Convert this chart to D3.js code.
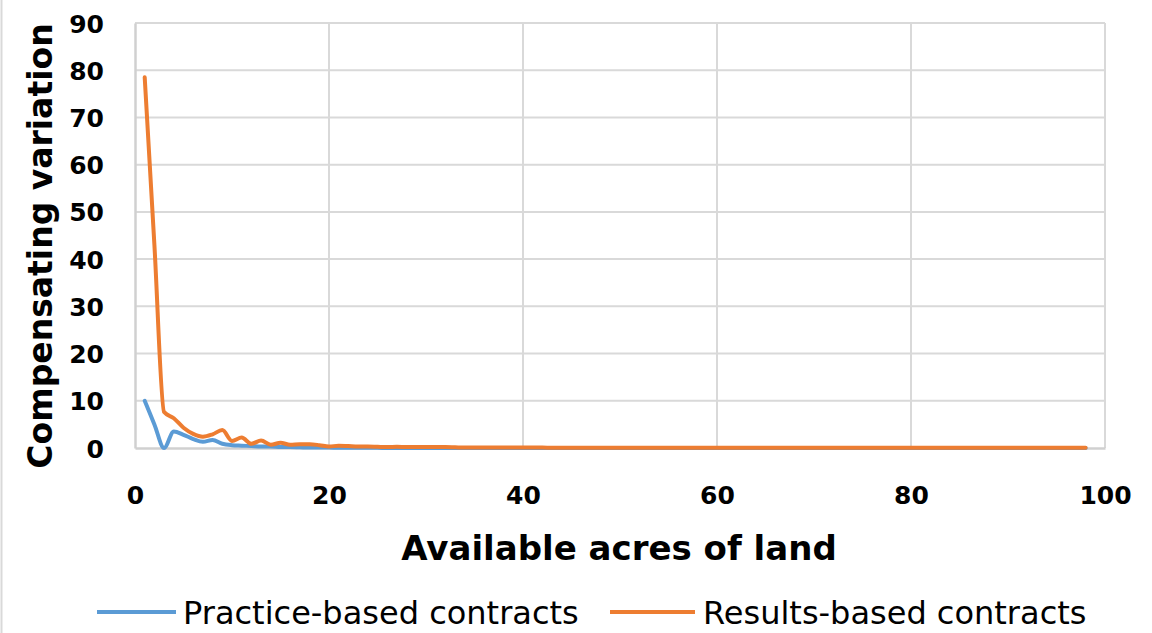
<!DOCTYPE html>
<html>
<head>
<meta charset="utf-8">
<script src="https://cdn.jsdelivr.net/npm/d3@7/dist/d3.min.js"></script>
<style>
  html, body { margin: 0; padding: 0; background: #ffffff; }
  svg { display: block; }
</style>
</head>
<body>
<svg id="chart" width="1152" height="633"></svg>
<script>
// Available acres of land (x) for each observation
const acres = [
  1, 2, 3, 4, 5, 6, 7, 8, 9, 10, 11, 12, 13, 14, 15, 16, 17, 18, 19, 20,
  21, 22, 23, 24, 25, 26, 27, 28, 29, 30, 31, 32, 33, 34, 35, 36, 37, 38, 39, 40,
  41, 42, 43, 44, 45, 46, 47, 48, 49, 50, 51, 52, 53, 54, 55, 56, 57, 58, 59, 60,
  61, 62, 63, 64, 65, 66, 67, 68, 69, 70, 71, 72, 73, 74, 75, 76, 77, 78, 79, 80,
  81, 82, 83, 84, 85, 86, 87, 88, 89, 90, 91, 92, 93, 94, 95, 96, 97, 98
];

// Compensating variation, practice-based contracts
const practiceBased = [
  10, 5, 0, 3.5, 2.8, 1.9, 1.3, 1.7, 0.9, 0.6, 0.5, 0.4, 0.3, 0.3, 0.2, 0.2, 0.15, 0.1, 0.1, 0.1,
  0.05, 0.05, 0.05, 0.05, 0.05, 0, 0, 0, 0, 0, 0, 0, 0, 0, 0, 0, 0, 0, 0, 0,
  0, 0, 0, 0, 0, 0, 0, 0, 0, 0, 0, 0, 0, 0, 0, 0, 0, 0, 0, 0,
  0, 0, 0, 0, 0, 0, 0, 0, 0, 0, 0, 0, 0, 0, 0, 0, 0, 0, 0, 0,
  0, 0, 0, 0, 0, 0, 0, 0, 0, 0, 0, 0, 0, 0, 0, 0, 0, 0
];

// Compensating variation, results-based contracts
const resultsBased = [
  78.5, 43, 7.6, 6.3, 4.3, 3.0, 2.4, 2.9, 3.8, 1.5, 2.2, 0.9, 1.6, 0.7, 1.1, 0.7, 0.8, 0.8, 0.6, 0.3,
  0.5, 0.4, 0.3, 0.3, 0.25, 0.2, 0.25, 0.2, 0.2, 0.2, 0.2, 0.2, 0.15, 0.1, 0.1, 0.1, 0.1, 0.1, 0.1, 0.1,
  0.1, 0.1, 0.05, 0.05, 0.05, 0.05, 0.05, 0.05, 0.05, 0.05, 0.05, 0.05, 0.05, 0.05, 0.05, 0.05, 0.05, 0.05, 0.05, 0.05,
  0.05, 0.05, 0.05, 0.05, 0.05, 0.05, 0.05, 0.05, 0.05, 0.05, 0.05, 0.05, 0.05, 0.05, 0.05, 0.05, 0.05, 0.05, 0.05, 0.05,
  0.05, 0.05, 0.05, 0.05, 0.05, 0.05, 0.05, 0.05, 0.05, 0.05, 0.05, 0.05, 0.05, 0.05, 0.05, 0.05, 0.05, 0.05
];

const xTicks = [0, 20, 40, 60, 80, 100];
const yTicks = [0, 10, 20, 30, 40, 50, 60, 70, 80, 90];

const seriesNames = ["Practice-based contracts", "Results-based contracts"];
const seriesColors = ["#5b9bd5", "#ed7d31"];

const xTitle = "Available acres of land";
const yTitle = "Compensating variation";

const svg = d3.select("#chart");
const W = 1152, H = 633;
const plot = { left: 135, right: 1105, top: 23, bottom: 448 };

const x = d3.scaleLinear().domain([0, 100]).range([plot.left, plot.right]);
const y = d3.scaleLinear().domain([0, 90]).range([plot.bottom, plot.top]);

svg.append("rect").attr("width", W).attr("height", H).attr("fill", "#ffffff");

// outer chart frame edge on the left
svg.append("line")
  .attr("x1", 1.5).attr("x2", 1.5).attr("y1", 0).attr("y2", H)
  .attr("stroke", "#d9d9d9").attr("stroke-width", 2);

const gridColor = "#d9d9d9";
const fontStack = "'DejaVu Sans', 'Liberation Sans', sans-serif";

// horizontal gridlines
svg.append("g")
  .selectAll("line")
  .data(yTicks.filter(d => d > 0))
  .join("line")
  .attr("x1", plot.left).attr("x2", plot.right)
  .attr("y1", d => y(d)).attr("y2", d => y(d))
  .attr("stroke", gridColor).attr("stroke-width", 2);

// vertical gridlines
svg.append("g")
  .selectAll("line")
  .data(xTicks.filter(d => d > 0))
  .join("line")
  .attr("x1", d => x(d)).attr("x2", d => x(d))
  .attr("y1", plot.top).attr("y2", plot.bottom)
  .attr("stroke", gridColor).attr("stroke-width", 2);

// x axis
const xAxis = d3.axisBottom(x).tickValues(xTicks).tickSize(0).tickPadding(0).tickFormat(d3.format("d"));
const gx = svg.append("g").attr("transform", `translate(0,${plot.bottom})`).call(xAxis);
gx.select(".domain").attr("stroke", "#d0d0d0").attr("stroke-width", 2.5);
gx.selectAll(".tick text")
  .attr("y", 56)
  .attr("dy", 0)
  .attr("font-family", fontStack)
  .attr("font-weight", "bold")
  .attr("font-size", 25)
  .attr("fill", "#000");

// y axis
const yAxis = d3.axisLeft(y).tickValues(yTicks).tickSize(0).tickPadding(0).tickFormat(d3.format("d"));
const gy = svg.append("g").attr("transform", `translate(${plot.left},0)`).call(yAxis);
gy.select(".domain").attr("stroke", "#d0d0d0").attr("stroke-width", 2.5);
gy.selectAll(".tick text")
  .attr("x", -31)
  .attr("dy", "0.36em")
  .attr("font-family", fontStack)
  .attr("font-weight", "bold")
  .attr("font-size", 25)
  .attr("fill", "#000");

// series lines
const line = d3.line()
  .x((d, i) => x(acres[i]))
  .y(d => y(d))
  .curve(d3.curveMonotoneX);

[practiceBased, resultsBased].forEach((vals, k) => {
  svg.append("path")
    .datum(vals)
    .attr("fill", "none")
    .attr("stroke", seriesColors[k])
    .attr("stroke-width", 4)
    .attr("stroke-linejoin", "round")
    .attr("stroke-linecap", "round")
    .attr("d", line);
});

// axis titles
svg.append("text")
  .attr("x", 619).attr("y", 560)
  .attr("text-anchor", "middle")
  .attr("font-family", fontStack)
  .attr("font-weight", "bold")
  .attr("font-size", 34)
  .attr("fill", "#000")
  .text(xTitle);

svg.append("text")
  .attr("transform", "translate(52,246) rotate(-90)")
  .attr("text-anchor", "middle")
  .attr("font-family", fontStack)
  .attr("font-weight", "bold")
  .attr("font-size", 33)
  .attr("fill", "#000")
  .text(yTitle);

// legend
const legendItems = [
  { name: seriesNames[0], color: seriesColors[0], x0: 97, x1: 176, tx: 183 },
  { name: seriesNames[1], color: seriesColors[1], x0: 610, x1: 695, tx: 703 }
];
const lg = svg.append("g");
legendItems.forEach(item => {
  lg.append("line")
    .attr("x1", item.x0).attr("x2", item.x1)
    .attr("y1", 612).attr("y2", 612)
    .attr("stroke", item.color).attr("stroke-width", 4);
  lg.append("text")
    .attr("x", item.tx).attr("y", 624)
    .attr("font-family", fontStack)
    .attr("font-size", 32)
    .attr("fill", "#000")
    .text(item.name);
});
</script>
</body>
</html>
